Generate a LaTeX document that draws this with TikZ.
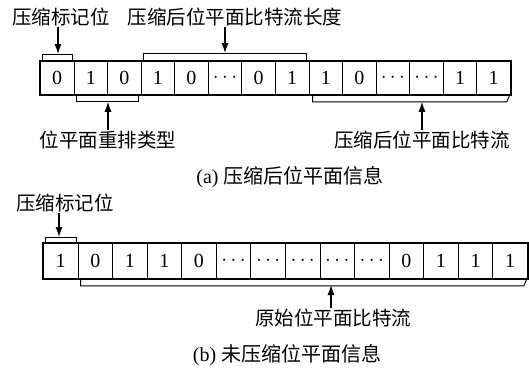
\documentclass[tikz,border=0pt]{standalone}
\usepackage{fontspec}
\setmainfont{Liberation Serif}
\newfontfamily\cjk{Noto Sans CJK SC}
\usetikzlibrary{arrows.meta}
\begin{document}
\begin{tikzpicture}[x=1pt,y=-1pt,
  cella/.style={draw, line width=0.8pt, minimum width=33.57pt, minimum height=33pt,
    inner sep=0pt, anchor=north west, font=\fontsize{20}{20}\selectfont},
  cellb/.style={draw, line width=0.8pt, minimum width=34.57pt, minimum height=35pt,
    inner sep=0pt, anchor=north west, font=\fontsize{20}{20}\selectfont},
  outer/.style={line width=1.5pt},
  brk/.style={line width=0.9pt},
  arr/.style={line width=1.1pt, -{Latex[length=10pt,width=7pt]}},
  lbl/.style={inner sep=1pt, font=\cjk\fontsize{19.5}{19.5}\selectfont},
  captext/.style={inner sep=1pt, font=\fontsize{20}{20}\selectfont},
]
\useasboundingbox (0,0) rectangle (529,370);

% ---------- (a) ----------
\foreach \v [count=\i] in {0,1,0,1,0,$\cdots$,0,1,1,0,$\cdots$,$\cdots$,1,1}
  \node[cella] (a\i) at ({40+(\i-1)*33.57},61) {\v};
\draw[outer] (a1.north west) rectangle (a14.south east);

% brackets above
\draw[brk] ([xshift=2pt]a1.north west) -- ++(0,-7) coordinate (ta1) -| ([xshift=-2pt]a1.north east);
\draw[brk] ([xshift=3pt]a4.north west) -- ++(0,-8) coordinate (ta2) -| ([xshift=-3pt]a8.north east);
% brackets below
\draw[brk] ([xshift=3pt]a2.south west) -- ++(0,7) coordinate (ba1) -| ([xshift=-3pt]a3.south east);
\draw[brk] ([xshift=4pt]a9.south west) -- ++(0,7) coordinate (ba2)
  -- ([xshift=-4pt,yshift=-7pt]a14.south east) -- ([xshift=-1pt]a14.south east);

\node[lbl] (L1) at (61,17) {压缩标记位};
\node[lbl] (L2) at (235,17) {压缩后位平面比特流长度};
\node[lbl] (L3) at (108,140) {位平面重排类型};
\node[lbl] (L4) at (422,140) {压缩后位平面比特流};
\node[captext] (CA) at (290,177) {(a) {\cjk 压缩后位平面信息}};

\coordinate (t1) at (58,54);
\coordinate (t2) at (225,53);
\draw[arr] (L1.south -| t1) -- (t1);
\draw[arr] (L2.south -| t2) -- (t2);
\draw[arr] (L3.north) -- (L3.north |- ba1);
\draw[arr] (L4.north) -- (L4.north |- ba2);

% ---------- (b) ----------
\foreach \v [count=\i] in {1,0,1,1,0,$\cdots$,$\cdots$,$\cdots$,$\cdots$,$\cdots$,0,1,1,1}
  \node[cellb] (b\i) at ({43+(\i-1)*34.57},243) {\v};
\draw[outer] (b1.north west) rectangle (b14.south east);

\draw[brk] ([xshift=2pt]b1.north west) -- ++(0,-6) coordinate (tb1) -| ([xshift=-2pt]b1.north east);
\draw[brk] ([xshift=3pt]b2.south west) -- ++(0,7) coordinate (bb1)
  -- ([xshift=-4pt,yshift=-7pt]b14.south east) -- ([xshift=-1pt]b14.south east);

\node[lbl] (L5) at (65,203) {压缩标记位};
\node[lbl] (L6) at (333,318) {原始位平面比特流};
\node[captext] (CB) at (287,355) {(b) {\cjk 未压缩位平面信息}};

\coordinate (t3) at (59,237);
\coordinate (t4) at (331,285);
\draw[arr] (L5.south -| t3) -- (t3);
\draw[arr] (L6.north -| t4) -- (t4);
\end{tikzpicture}
\end{document}
